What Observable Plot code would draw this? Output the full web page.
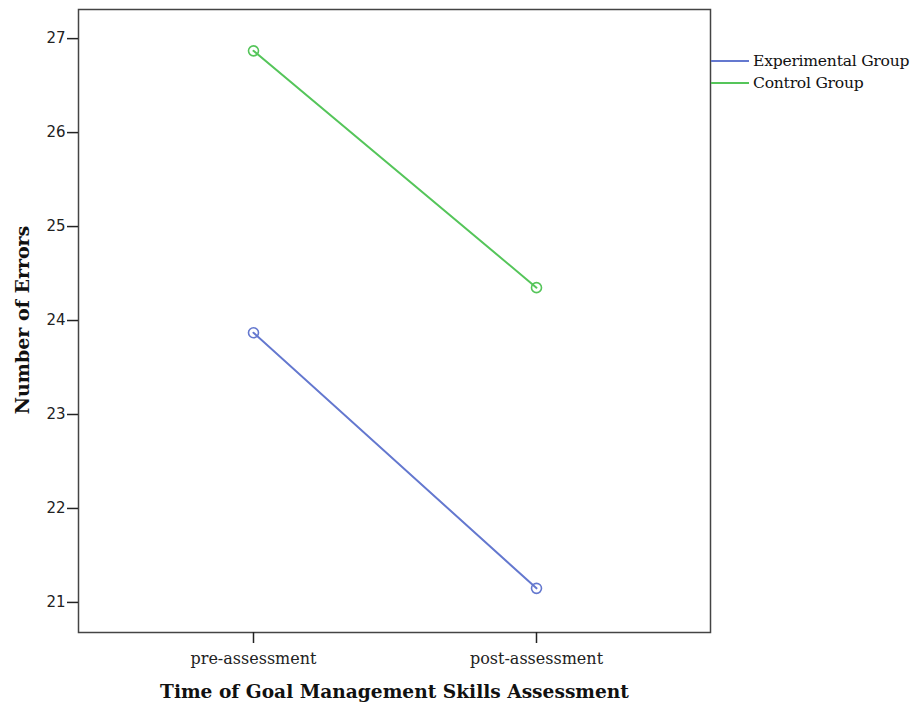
<!DOCTYPE html>
<html><head><meta charset="utf-8">
<script src="https://cdn.jsdelivr.net/npm/d3@7"></script>
<script src="https://cdn.jsdelivr.net/npm/@observablehq/plot@0.6"></script>
<style>
body{margin:0;background:#fff;}
#wrap{position:relative;width:913px;height:708px;}
#legend{position:absolute;left:711px;top:50px;font-family:"DejaVu Serif",serif;font-size:15.6px;letter-spacing:-0.25px;color:#111;}
.item{display:flex;align-items:center;height:22px;white-space:nowrap;}
.sw{width:38px;height:2px;margin-right:4px;}
</style>
</head><body>
<div id="wrap"><div id="legend"></div></div>
<script>
const times = ["pre-assessment", "post-assessment"];
const groups = ["Experimental Group", "Control Group"];
const colors = ["#6478cf", "#55c55a"];
const experimental = [23.87, 21.15];
const control = [26.87, 24.35];
const yTicks = [21, 22, 23, 24, 25, 26, 27];

const data = [];
times.forEach((t, i) => {
  data.push({time: t, group: groups[0], value: experimental[i]});
  data.push({time: t, group: groups[1], value: control[i]});
});

const chart = Plot.plot({
  width: 913,
  height: 708,
  marginLeft: 78,
  marginRight: 203,
  marginTop: 9,
  marginBottom: 76,
  style: {background: "#fff", color: "#222"},
  x: {type: "point", domain: times, padding: 0.6127, label: null},
  y: {domain: [20.68, 27.31], label: null},
  color: {domain: groups, range: colors},
  marks: [
    Plot.frame({stroke: "#444", strokeWidth: 1.5}),
    Plot.axisY({ticks: yTicks, tickSize: 11, tickPadding: 2, tickFormat: d => d, fontSize: 15, fontFamily: "DejaVu Sans, sans-serif", stroke: "#222", strokeWidth: 1.5, label: null}),
    Plot.axisX({tickSize: 11, tickPadding: 9, fontSize: 16, fontFamily: "DejaVu Serif, serif", stroke: "#222", strokeWidth: 1.5, label: null}),
    Plot.line(data, {x: "time", y: "value", z: "group", stroke: "group", strokeWidth: 2}),
    Plot.dot(data, {x: "time", y: "value", stroke: "group", r: 5, strokeWidth: 1.6, fill: "none"}),
    Plot.text(["Number of Errors"], {frameAnchor: "left", dx: -56, dy: -1, rotate: -90, textAnchor: "middle", text: d => d, fontSize: 19, fontWeight: "bold", fontFamily: "DejaVu Serif, serif", fill: "#111"}),
    Plot.text(["Time of Goal Management Skills Assessment"], {frameAnchor: "bottom", dy: 65, text: d => d, fontSize: 18.6, fontWeight: "bold", fontFamily: "DejaVu Serif, serif", fill: "#111"})
  ]
});
document.getElementById("wrap").prepend(chart);
const leg = document.getElementById("legend");
groups.forEach((g, i) => {
  const it = document.createElement("div");
  it.className = "item";
  const sw = document.createElement("div");
  sw.className = "sw";
  sw.style.background = colors[i];
  const lb = document.createElement("span");
  lb.textContent = g;
  it.appendChild(sw); it.appendChild(lb);
  leg.appendChild(it);
});
</script>
</body></html>
